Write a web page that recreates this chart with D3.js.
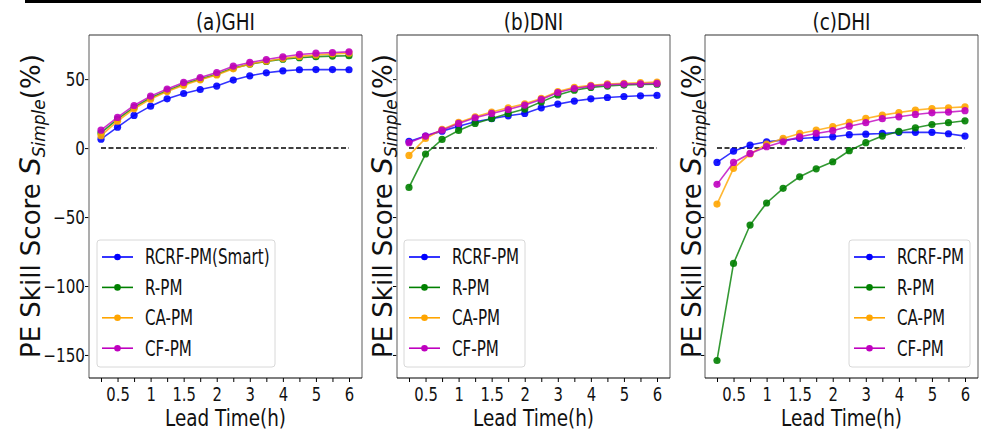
<!DOCTYPE html>
<html>
<head>
<meta charset="utf-8">
<script src="https://cdn.jsdelivr.net/npm/d3@7"></script>
<style>
  body { margin: 0; background: #fff; }
  text { font-family: "DejaVu Sans", sans-serif; fill: #111; }
</style>
</head>
<body>
<script>
// lead times (h) on the x axis, equally spaced points
var leadTimes = ["0.25","0.5","0.75","1","1.25","1.5","1.75","2","2.5","3","3.5","4","4.5","5","5.5","6"];
var tickLabels = ["0.5","1","1.5","2","3","4","5","6"];
var yTicks = [-150, -100, -50, 0, 50];

var panelTitles = ["(a)GHI", "(b)DNI", "(c)DHI"];
var seriesNames = ["RCRF-PM", "R-PM", "CA-PM", "CF-PM"];
var firstLegendName = "RCRF-PM(Smart)";
var colors = ["#0000ff", "#008000", "#ffa500", "#bf00bf"];

// (a) GHI
var ghiRCRF = [6.5, 15.2, 23.7, 30.4, 35.7, 39.6, 42.5, 45, 49.3, 52.4, 54.6, 56, 56.8, 56.9, 56.9, 56.8];
var ghiR    = [11, 21, 29.5, 36.5, 41.5, 46.5, 50, 53.5, 58, 60.8, 62.8, 64.5, 65.5, 66.3, 66.7, 67];
var ghiCA   = [9, 19.5, 28.5, 35.5, 41, 45.5, 49.5, 53, 57.5, 61, 63, 65, 66.5, 67.5, 68.3, 68.8];
var ghiCF   = [13, 22.2, 30.9, 37.7, 42.8, 47.6, 51.2, 54.8, 59.4, 62.1, 64.2, 66.2, 67.9, 68.8, 69.3, 69.8];

// (b) DNI
var dniRCRF = [4.8, 8.7, 12.3, 15.9, 19.1, 21.3, 23.4, 25.1, 29.2, 31.9, 34.1, 35.7, 36.7, 37.4, 37.9, 38.2];
var dniR    = [-28.5, -4.3, 6.3, 12.8, 17.9, 21.5, 25.1, 28.3, 33.5, 38.5, 42, 44, 45, 45.7, 46.1, 46.3];
var dniCA   = [-5.3, 7, 13.5, 18.6, 22.7, 26.1, 29.2, 32.1, 36, 41, 44, 45.5, 46.5, 47, 47.4, 47.8];
var dniCF   = [3.9, 8.7, 13, 17.9, 22, 25.1, 28, 31.2, 35.3, 40.3, 43.2, 44.9, 45.9, 46.4, 46.6, 46.9];

// (c) DHI
var dhiRCRF = [-10.4, -2.2, 2.2, 4.6, 5.8, 7, 7.7, 8.2, 9.7, 10.1, 10.6, 11.4, 11.4, 11.4, 10.4, 8.7];
var dhiR    = [-154, -83.6, -55.8, -39.8, -29.2, -20.8, -15, -9.9, -1.9, 3.9, 8.7, 12.1, 14.7, 17.1, 18.4, 19.8];
var dhiCA   = [-40.6, -14.7, -4.3, 2.9, 7, 10.6, 13, 15.5, 18.6, 21.5, 23.9, 25.8, 27.5, 28.7, 29.2, 29.9];
var dhiCF   = [-26.3, -10.4, -3.9, 1, 4.6, 8.2, 10.6, 12.6, 15.9, 18.4, 21.3, 22.7, 24.4, 25.6, 26.1, 27.1];

var panelData = [
    [ghiRCRF, ghiR, ghiCA, ghiCF],
    [dniRCRF, dniR, dniCA, dniCF],
    [dhiRCRF, dhiR, dhiCA, dhiCF]
];

var width = 981, height = 432;
var panelLefts = [89, 397, 705];
var panelW = 273, plotTop = 35, plotBottom = 378;
var legendLefts = [97, 404, 849];
var legendWidths = [178, 121, 121];

var svg = d3.select("body")
    .append("svg")
    .attr("width", width)
    .attr("height", height);

// black rule along the top edge
svg.append("rect")
    .attr("x", 25).attr("y", 0)
    .attr("width", width - 25).attr("height", 3)
    .attr("fill", "#000");

var y = d3.scaleLinear().domain([-166.7, 82]).range([plotBottom, plotTop]);

// the text in the figure is narrow, squeeze it horizontally around (cx, cy)
function narrow(sel, cx, cy, k) {
    sel.attr("transform", "translate(" + cx + "," + cy + ") scale(" + k + ",1) translate(" + (-cx) + "," + (-cy) + ")");
}

panelData.forEach(function(series, p) {
    var left = panelLefts[p];
    var x = d3.scalePoint().domain(leadTimes).range([left + 12, left + panelW - 13]);
    var g = svg.append("g");

    // y axis
    var yAxis = g.append("g")
        .attr("transform", "translate(" + left + ",0)")
        .call(d3.axisLeft(y).tickValues(yTicks).tickSize(4).tickPadding(1)
            .tickFormat(p === 0 ? function(d) { return String(d).replace("-", "\u2212"); } : ""));
    yAxis.select(".domain").remove();
    yAxis.selectAll("text").attr("font-size", 19).attr("font-family", "DejaVu Sans")
        .attr("transform", "scale(0.8,1)");

    // x axis
    var xAxis = g.append("g")
        .attr("transform", "translate(0," + plotBottom + ")")
        .call(d3.axisBottom(x).tickSize(4).tickPadding(6)
            .tickFormat(function(d) { return tickLabels.indexOf(d) >= 0 ? d : ""; }));
    xAxis.select(".domain").remove();
    xAxis.selectAll("text").attr("font-size", 19).attr("font-family", "DejaVu Sans")
        .attr("transform", "scale(0.78,1)");

    // frame
    g.append("line").attr("x1", left).attr("x2", left).attr("y1", plotTop).attr("y2", plotBottom)
        .attr("stroke", "#999").attr("stroke-width", 1.6);
    g.append("line").attr("x1", left + panelW).attr("x2", left + panelW).attr("y1", plotTop).attr("y2", plotBottom)
        .attr("stroke", "#999").attr("stroke-width", 1.6);
    g.append("line").attr("x1", left).attr("x2", left + panelW).attr("y1", plotTop).attr("y2", plotTop)
        .attr("stroke", "#333").attr("stroke-width", 1.2);
    g.append("line").attr("x1", left).attr("x2", left + panelW).attr("y1", plotBottom).attr("y2", plotBottom)
        .attr("stroke", "#000").attr("stroke-width", 1.2);

    // zero reference
    g.append("line")
        .attr("x1", x(leadTimes[0])).attr("x2", x(leadTimes[leadTimes.length - 1]))
        .attr("y1", y(0)).attr("y2", y(0))
        .attr("stroke", "#000").attr("stroke-width", 1.5)
        .attr("stroke-dasharray", "5,2.5");

    var line = d3.line()
        .x(function(d, i) { return x(leadTimes[i]); })
        .y(function(d) { return y(d); });

    series.forEach(function(vals, s) {
        g.append("path")
            .attr("d", line(vals))
            .attr("fill", "none")
            .attr("stroke", colors[s])
            .attr("stroke-width", 1.6)
            .attr("stroke-opacity", 0.8);
        g.selectAll(null)
            .data(vals)
            .enter()
                .append("circle")
                .attr("cx", function(d, i) { return x(leadTimes[i]); })
                .attr("cy", function(d) { return y(d); })
                .attr("r", 3.6)
                .attr("fill", colors[s])
                .attr("fill-opacity", 0.9);
    });

    // title
    var cx = left + panelW / 2;
    g.append("text")
        .attr("x", cx).attr("y", 30)
        .attr("text-anchor", "middle")
        .attr("font-size", 23)
        .text(panelTitles[p])
        .call(narrow, cx, 30, 0.8);

    // x label
    g.append("text")
        .attr("x", cx).attr("y", 426)
        .attr("text-anchor", "middle")
        .attr("font-size", 23)
        .text("Lead Time(h)")
        .call(narrow, cx, 426, 0.8);

    // y label
    var lx = [40, 392, 701][p];
    var yl = g.append("text")
        .attr("transform", "translate(" + lx + ",358) rotate(-90)")
        .attr("font-size", 26);
    yl.append("tspan").text("PE Skill Score ");
    yl.append("tspan").attr("font-style", "italic").attr("font-size", 28).text("S");
    yl.append("tspan").attr("font-style", "italic").attr("font-size", 17).attr("dy", 5).text("Simple");
    yl.append("tspan").attr("dy", -5).text("(%)");

    // legend
    var lgX = legendLefts[p];
    var lg = g.append("g");
    lg.append("rect")
        .attr("x", lgX).attr("y", 240)
        .attr("width", legendWidths[p]).attr("height", 127)
        .attr("rx", 3)
        .attr("fill", "#fff").attr("fill-opacity", 0.8)
        .attr("stroke", "#d8d8d8").attr("stroke-width", 1);
    seriesNames.forEach(function(name, s) {
        var ry = 257 + s * 30.4;
        lg.append("line")
            .attr("x1", lgX + 5).attr("x2", lgX + 36)
            .attr("y1", ry).attr("y2", ry)
            .attr("stroke", colors[s]).attr("stroke-width", 1.6);
        lg.append("circle")
            .attr("cx", lgX + 20.5).attr("cy", ry).attr("r", 3.3)
            .attr("fill", colors[s]);
        var tx = lgX + 48;
        lg.append("text")
            .attr("x", tx).attr("y", ry + 7.5)
            .attr("font-size", 21)
            .text(p === 0 && s === 0 ? firstLegendName : name)
            .call(narrow, tx, ry + 7.5, 0.72);
    });
});
</script>
</body>
</html>
